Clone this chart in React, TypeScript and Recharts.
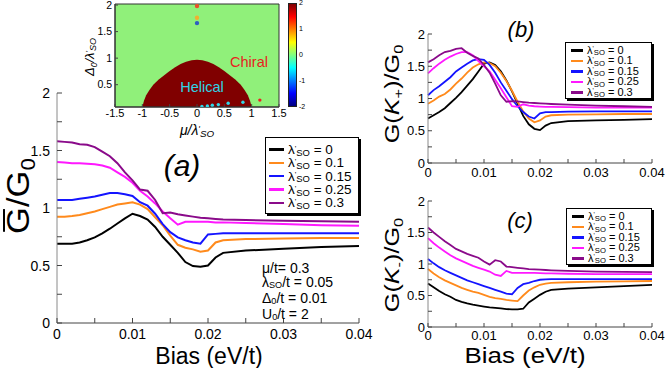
import React from 'react';
import {
  LineChart,
  Line,
  XAxis,
  YAxis,
  ComposedChart,
  Area,
  Scatter,
  CartesianGrid,
  ReferenceArea,
  Cell,
} from 'recharts';

const FONT = "'Liberation Sans', Arial, Helvetica, sans-serif";

// bias (eV/t) sample points, shared by the three panels
const bias = [
  0, 0.001, 0.002, 0.003, 0.004, 0.005, 0.006, 0.007, 0.008, 0.009, 0.01, 0.011, 0.012, 0.013,
  0.014, 0.015, 0.016, 0.017, 0.018, 0.019, 0.02, 0.021, 0.022, 0.025, 0.03, 0.035, 0.04,
];

const lambdaValues = ['0', '0.1', '0.15', '0.25', '0.3'];
const lineColors = ['#000000', '#ff8a1c', '#1414ff', '#ff18ff', '#8a0a8a'];

// (a) averaged conductance
const gAvg0 = [0.69, 0.69, 0.69, 0.70, 0.72, 0.745, 0.78, 0.82, 0.865, 0.91, 0.95, 0.93, 0.90, 0.835, 0.75, 0.68, 0.61, 0.53, 0.495, 0.49, 0.50, 0.57, 0.61, 0.63, 0.645, 0.66, 0.67];
const gAvg1 = [0.925, 0.925, 0.93, 0.94, 0.955, 0.97, 0.99, 1.01, 1.03, 1.04, 1.05, 1.03, 0.99, 0.92, 0.85, 0.76, 0.68, 0.655, 0.64, 0.62, 0.63, 0.70, 0.72, 0.73, 0.735, 0.74, 0.74];
const gAvg2 = [1.07, 1.07, 1.07, 1.08, 1.09, 1.10, 1.115, 1.13, 1.13, 1.12, 1.105, 1.05, 1.02, 0.95, 0.86, 0.79, 0.745, 0.72, 0.70, 0.69, 0.77, 0.775, 0.78, 0.78, 0.78, 0.78, 0.78];
const gAvg3 = [1.40, 1.395, 1.39, 1.39, 1.385, 1.38, 1.37, 1.35, 1.31, 1.27, 1.22, 1.15, 1.10, 1.04, 0.97, 0.91, 0.855, 0.88, 0.88, 0.88, 0.88, 0.875, 0.875, 0.87, 0.86, 0.85, 0.845];
const gAvg4 = [1.58, 1.575, 1.57, 1.555, 1.55, 1.53, 1.49, 1.45, 1.39, 1.31, 1.24, 1.16, 1.15, 1.07, 0.955, 0.96, 0.945, 0.935, 0.925, 0.915, 0.91, 0.905, 0.90, 0.895, 0.89, 0.885, 0.88];

// (b) G(K+)
const gKp0 = [0.69, 0.74, 0.79, 0.85, 0.93, 1.01, 1.10, 1.20, 1.30, 1.42, 1.54, 1.56, 1.52, 1.42, 1.28, 1.11, 0.92, 0.73, 0.60, 0.53, 0.51, 0.58, 0.62, 0.65, 0.66, 0.67, 0.68];
const gKp1 = [0.92, 0.97, 1.03, 1.07, 1.14, 1.23, 1.31, 1.40, 1.48, 1.53, 1.56, 1.55, 1.50, 1.40, 1.27, 1.12, 0.95, 0.80, 0.69, 0.63, 0.66, 0.72, 0.74, 0.75, 0.755, 0.76, 0.76];
const gKp2 = [1.05, 1.13, 1.19, 1.26, 1.33, 1.42, 1.48, 1.54, 1.59, 1.61, 1.60, 1.52, 1.40, 1.25, 1.12, 0.99, 0.88, 0.79, 0.72, 0.69, 0.77, 0.79, 0.79, 0.795, 0.80, 0.80, 0.80];
const gKp3 = [1.39, 1.47, 1.54, 1.60, 1.65, 1.69, 1.72, 1.72, 1.67, 1.58, 1.50, 1.42, 1.29, 1.16, 1.02, 0.88, 0.87, 0.91, 0.89, 0.88, 0.875, 0.87, 0.87, 0.865, 0.86, 0.86, 0.86];
const gKp4 = [1.56, 1.61, 1.67, 1.72, 1.74, 1.77, 1.78, 1.71, 1.66, 1.62, 1.52, 1.40, 1.23, 1.05, 0.95, 0.96, 0.955, 0.945, 0.935, 0.93, 0.925, 0.92, 0.915, 0.905, 0.89, 0.88, 0.87];

// (c) G(K-)
const gKm0 = [0.69, 0.63, 0.57, 0.52, 0.48, 0.43, 0.40, 0.375, 0.355, 0.34, 0.325, 0.31, 0.305, 0.295, 0.285, 0.28, 0.28, 0.29, 0.39, 0.45, 0.51, 0.56, 0.59, 0.61, 0.63, 0.65, 0.67];
const gKm1 = [0.92, 0.85, 0.79, 0.74, 0.70, 0.66, 0.62, 0.59, 0.56, 0.54, 0.51, 0.48, 0.46, 0.445, 0.43, 0.42, 0.41, 0.50, 0.58, 0.63, 0.67, 0.69, 0.70, 0.71, 0.72, 0.725, 0.73];
const gKm2 = [1.08, 1.01, 0.95, 0.90, 0.86, 0.82, 0.78, 0.74, 0.71, 0.68, 0.65, 0.62, 0.59, 0.56, 0.53, 0.52, 0.62, 0.68, 0.70, 0.73, 0.75, 0.755, 0.76, 0.76, 0.76, 0.76, 0.76];
const gKm3 = [1.41, 1.33, 1.26, 1.20, 1.14, 1.09, 1.05, 1.01, 0.97, 0.94, 0.91, 0.88, 0.83, 0.81, 0.89, 0.86, 0.86, 0.86, 0.86, 0.86, 0.855, 0.85, 0.85, 0.845, 0.84, 0.84, 0.84];
const gKm4 = [1.58, 1.50, 1.43, 1.36, 1.30, 1.24, 1.20, 1.16, 1.13, 1.10, 1.04, 0.99, 1.06, 1.04, 0.96, 0.95, 0.94, 0.93, 0.92, 0.915, 0.91, 0.905, 0.90, 0.89, 0.88, 0.875, 0.87];

const biasTicks = [0, 0.005, 0.01, 0.015, 0.02, 0.025, 0.03, 0.035, 0.04];
const biasTickLabels = ['0', '', '0.01', '', '0.02', '', '0.03', '', '0.04'];
const gTicks = [0, 0.25, 0.5, 0.75, 1, 1.25, 1.5, 1.75, 2];
const gTickLabels = ['0', '', '0.5', '', '1', '', '1.5', '', '2'];

// inset phase diagram
const insetMin = 0.08;
const insetMax = 2.02;
const helicalMu = [-1, -0.97, -0.93, -0.87, -0.8, -0.7, -0.6, -0.5, -0.4, -0.3, -0.2, -0.1, 0, 0.1, 0.2, 0.3, 0.4, 0.5, 0.6, 0.7, 0.8, 0.87, 0.93, 0.97, 1];
const helicalDelta = [0.08, 0.2, 0.3, 0.4, 0.5, 0.6, 0.68, 0.76, 0.83, 0.89, 0.93, 0.96, 0.97, 0.96, 0.93, 0.89, 0.83, 0.76, 0.68, 0.6, 0.5, 0.4, 0.3, 0.2, 0.08];
const cyanMu = [0.09, 0.19, 0.28, 0.39, 0.57, 0.84];
const cyanDelta = [0.09, 0.1, 0.115, 0.125, 0.15, 0.17];
const redMu = [1.15];
const redDelta = [0.21];
const topMu = [0, 0, 0];
const topDelta = [1.98, 1.76, 1.66];
const topColors = ['#e8502a', '#f0b030', '#2f5fc0'];
const muTicks = [-1.5, -1, -0.5, 0, 0.5, 1, 1.5];
const muTickLabels = ['-1.5', '-1', '-0.5', '0', '0.5', '1', '1.5'];
const deltaTicks = [0.5, 1, 1.5, 2];
const deltaTickLabels = ['0.5', '1', '1.5', '2'];
const colorbarLabels = ['2', '1', '0', '-1', '-2'];

function rows(series: number[][]) {
  return bias.map((b, i) => {
    const r: Record<string, number> = { bias: b };
    series.forEach((s, k) => {
      r['s' + k] = s[i];
    });
    return r;
  });
}

function pts(mu: number[], d: number[]) {
  return mu.map((m, i) => ({ mu: m, d: d[i] }));
}

type TickOpts = { side: 'left' | 'bottom'; ticks: number[]; labels: string[]; len: number; size: number; gap: number };

function makeTick({ side, ticks, labels, len, size, gap }: TickOpts) {
  return (p: any) => {
    const { x, y, payload } = p;
    const idx = ticks.findIndex((t) => Math.abs(t - payload.value) < 1e-9);
    const label = idx >= 0 ? labels[idx] : '';
    if (side === 'left') {
      return (
        <g>
          <line x1={x} x2={x + len} y1={y} y2={y} stroke="#444" />
          {label && (
            <text x={x - gap} y={y} dy="0.36em" textAnchor="end" fontSize={size} fontFamily={FONT} fill="#000">
              {label}
            </text>
          )}
        </g>
      );
    }
    return (
      <g>
        <line x1={x} x2={x} y1={y} y2={y - len} stroke="#444" />
        {label && (
          <text x={x} y={y + gap} dy="0.72em" textAnchor="middle" fontSize={size} fontFamily={FONT} fill="#000">
            {label}
          </text>
        )}
      </g>
    );
  };
}

type PanelProps = {
  series: number[][];
  left: number;
  top: number;
  width: number;
  height: number;
  margin: { top: number; right: number; left: number; bottom: number };
  yWidth: number;
  xHeight: number;
  fontSize: number;
  xGap: number;
  yGap: number;
  tickLen: number;
  lineWidth: number;
};

function GPanel(p: PanelProps) {
  return (
    <div style={{ position: 'absolute', left: p.left, top: p.top }}>
      <LineChart width={p.width} height={p.height} data={rows(p.series)} margin={p.margin}>
        <XAxis
          dataKey="bias"
          type="number"
          domain={[0, 0.04]}
          ticks={biasTicks}
          interval={0}
          height={p.xHeight}
          tickLine={false}
          tickSize={0}
          tickMargin={0}
          axisLine={{ stroke: '#444' }}
          tick={makeTick({ side: 'bottom', ticks: biasTicks, labels: biasTickLabels, len: p.tickLen, size: p.fontSize, gap: p.xGap })}
        />
        <YAxis
          type="number"
          domain={[0, 2]}
          ticks={gTicks}
          interval={0}
          width={p.yWidth}
          tickLine={false}
          tickSize={0}
          tickMargin={0}
          allowDataOverflow
          axisLine={{ stroke: '#8a8a8a' }}
          tick={makeTick({ side: 'left', ticks: gTicks, labels: gTickLabels, len: p.tickLen, size: p.fontSize, gap: p.yGap })}
        />
        {p.series.map((_, k) => (
          <Line
            key={k}
            dataKey={'s' + k}
            stroke={lineColors[k]}
            strokeWidth={p.lineWidth}
            dot={false}
            type="linear"
            isAnimationActive={false}
          />
        ))}
      </LineChart>
    </div>
  );
}

// λ'_SO : prime written as a small superscript, then the subscript
function LamSO() {
  return (
    <span>
      λ<span style={{ fontSize: '0.6em', position: 'relative', top: '-0.4em' }}>'</span>
      <span style={{ fontSize: '0.7em', position: 'relative', top: '0.2em' }}>SO</span>
    </span>
  );
}

function LegendBox(props: { left: number; top: number; width: number; rowH: number; fontSize: number; padTop: number; padLeft: number; sample: number }) {
  return (
    <div
      style={{
        position: 'absolute',
        left: props.left,
        top: props.top,
        width: props.width,
        height: props.rowH * 5 + props.padTop * 2,
        boxSizing: 'border-box',
        border: '1px solid #000',
        boxShadow: '2px 2px 0 #000',
        background: '#fff',
        fontFamily: FONT,
        fontSize: props.fontSize,
        paddingTop: props.padTop,
        paddingLeft: props.padLeft,
      }}
    >
      {lambdaValues.map((v, i) => (
        <div key={v} style={{ display: 'flex', alignItems: 'center', height: props.rowH, lineHeight: 1, whiteSpace: 'nowrap' }}>
          <span style={{ display: 'inline-block', width: props.sample, height: 2.5, background: lineColors[i], marginRight: 4 }} />
          <LamSO />
          <span>&nbsp;= {v}</span>
        </div>
      ))}
    </div>
  );
}

function Txt(props: { x: number; y: number; size: number; rot?: number; sx?: number; italic?: boolean; color?: string; children: React.ReactNode }) {
  const { x, y, size, rot = 0, sx = 1, italic, color = '#000' } = props;
  return (
    <div
      style={{
        position: 'absolute',
        left: x,
        top: y,
        transform: `translate(-50%,-50%) rotate(${rot}deg) scale(${sx},1)`,
        fontFamily: FONT,
        fontSize: size,
        fontStyle: italic ? 'italic' : 'normal',
        color,
        whiteSpace: 'nowrap',
        lineHeight: 1,
      }}
    >
      {props.children}
    </div>
  );
}

const sub = (t: string, drop = 0.3) => (
  <span style={{ fontSize: '0.65em', position: 'relative', top: `${drop}em` }}>{t}</span>
);

function Inset() {
  return (
    <div style={{ position: 'absolute', left: 60, top: -6 }}>
      <ComposedChart width={250} height={141} data={pts(helicalMu, helicalDelta)} margin={{ top: 10, right: 31, left: 30, bottom: 10 }}>
        <CartesianGrid fill="#90f07a" horizontal={false} vertical={false} />
        <XAxis
          dataKey="mu"
          type="number"
          domain={[-1.5, 1.5]}
          ticks={muTicks}
          interval={0}
          height={18}
          tickLine={false}
          tickSize={0}
          tickMargin={0}
          axisLine={{ stroke: '#333' }}
          tick={makeTick({ side: 'bottom', ticks: muTicks, labels: muTickLabels, len: 3, size: 11, gap: 2 })}
        />
        <YAxis
          dataKey="d"
          type="number"
          domain={[insetMin, insetMax]}
          ticks={deltaTicks}
          interval={0}
          width={25}
          allowDataOverflow
          tickLine={false}
          tickSize={0}
          tickMargin={0}
          axisLine={{ stroke: '#333' }}
          tick={makeTick({ side: 'left', ticks: deltaTicks, labels: deltaTickLabels, len: 3, size: 10.5, gap: 3 })}
        />
        <Area dataKey="d" baseValue={insetMin} fill="#800000" fillOpacity={1} stroke="none" type="linear" isAnimationActive={false} />
        <Scatter data={pts(cyanMu, cyanDelta)} fill="#30d8e8" isAnimationActive={false} shape={(s: any) => <circle cx={s.cx} cy={s.cy} r={1.7} fill="#30d8e8" />} />
        <Scatter data={pts(redMu, redDelta)} fill="#ee2020" isAnimationActive={false} shape={(s: any) => <circle cx={s.cx} cy={s.cy} r={1.7} fill="#ee2020" />} />
        <Scatter data={pts(topMu, topDelta)} isAnimationActive={false} shape={(s: any) => <circle cx={s.cx} cy={s.cy} r={2.2} fill={s.fill} />}>
          {topColors.map((c) => (
            <Cell key={c} fill={c} />
          ))}
        </Scatter>
        <ReferenceArea x1={-1.5} x2={1.5} y1={insetMin} y2={insetMax} fill="none" stroke="#333" ifOverflow="visible" />
      </ComposedChart>
    </div>
  );
}

export default function App() {
  return (
    <div style={{ position: 'absolute', left: 0, top: 0, width: 666, height: 368, background: '#fff', overflow: 'hidden', fontFamily: FONT }}>
      <GPanel
        series={[gAvg0, gAvg1, gAvg2, gAvg3, gAvg4]}
        left={0}
        top={80}
        width={382}
        height={288}
        margin={{ top: 13, right: 23, left: 7, bottom: 15 }}
        yWidth={50}
        xHeight={30}
        fontSize={14}
        xGap={6}
        yGap={7}
        tickLen={5}
        lineWidth={2}
      />
      <GPanel
        series={[gKp0, gKp1, gKp2, gKp3, gKp4]}
        left={380}
        top={20}
        width={286}
        height={165}
        margin={{ top: 14, right: 14, left: 8, bottom: 4 }}
        yWidth={40}
        xHeight={18}
        fontSize={13}
        xGap={5}
        yGap={3}
        tickLen={4}
        lineWidth={1.8}
      />
      <GPanel
        series={[gKm0, gKm1, gKm2, gKm3, gKm4]}
        left={380}
        top={190}
        width={286}
        height={178}
        margin={{ top: 11, right: 14, left: 8, bottom: 11 }}
        yWidth={40}
        xHeight={30}
        fontSize={13}
        xGap={4}
        yGap={3}
        tickLen={4}
        lineWidth={1.8}
      />
      <Inset />

      {/* colorbar */}
      <div
        style={{
          position: 'absolute',
          left: 288,
          top: 3,
          width: 9,
          height: 104,
          boxSizing: 'border-box',
          border: '1px solid #222',
          background: 'linear-gradient(to bottom, #800000 0%, #ff0000 12.5%, #ffff00 37.5%, #80ff80 50%, #00ffff 62.5%, #0000ff 87.5%, #000080 100%)',
        }}
      />
      {colorbarLabels.map((l, i) => (
        <div key={l} style={{ position: 'absolute', left: 299, top: 3 + i * 26 - 4, fontSize: 7, lineHeight: '8px', fontFamily: FONT }}>
          {l}
        </div>
      ))}

      <Txt x={249} y={62} size={14.5} color="#e8221e">Chiral</Txt>
      <Txt x={202} y={87} size={14.5} color="#2ed3e6">Helical</Txt>
      <Txt x={197} y={130} size={14} italic>
        μ/<LamSO />
      </Txt>
      <Txt x={90} y={57} size={13} rot={-90} italic>
        Δ{sub('0')}/<LamSO />
      </Txt>

      <Txt x={18} y={196} size={32} rot={-90} sx={1.08}>
        <span style={{ position: 'relative', display: 'inline-block' }}>
          G
          <span style={{ position: 'absolute', left: 2, right: 2, top: 1, height: 2, background: '#000' }} />
        </span>
        /G{sub('0')}
      </Txt>
      <Txt x={209} y={356} size={23}>Bias (eV/t)</Txt>
      <Txt x={182} y={166} size={30} italic>(a)</Txt>

      <div style={{ position: 'absolute', left: 262, top: 261, fontFamily: FONT, fontSize: 14, lineHeight: '14px', whiteSpace: 'nowrap' }}>
        <div>μ/t= 0.3</div>
        <div>λ{sub('SO', 0.15)}/t = 0.05</div>
        <div>Δ{sub('0', 0.15)}/t = 0.01</div>
        <div>U{sub('0', 0.15)}/t = 2</div>
      </div>

      <LegendBox left={265} top={137} width={94} rowH={13.3} fontSize={13.5} padTop={5} padLeft={3} sample={15} />
      <LegendBox left={565} top={42} width={87} rowH={10.5} fontSize={11} padTop={2} padLeft={5} sample={12} />
      <LegendBox left={566} top={208} width={86} rowH={10.5} fontSize={11} padTop={2} padLeft={5} sample={12} />

      <Txt x={391} y={94} size={21} rot={-90} sx={1.2}>
        G(<i>K</i>{sub('+')})/G{sub('0')}
      </Txt>
      <Txt x={521} y={30} size={22} italic>(b)</Txt>

      <Txt x={391} y={265} size={21} rot={-90} sx={1.2}>
        G(<i>K</i>{sub('-')})/G{sub('0')}
      </Txt>
      <Txt x={520} y={221} size={22} italic>(c)</Txt>
      <Txt x={525} y={356} size={22} sx={1.18}>Bias (eV/t)</Txt>
    </div>
  );
}
